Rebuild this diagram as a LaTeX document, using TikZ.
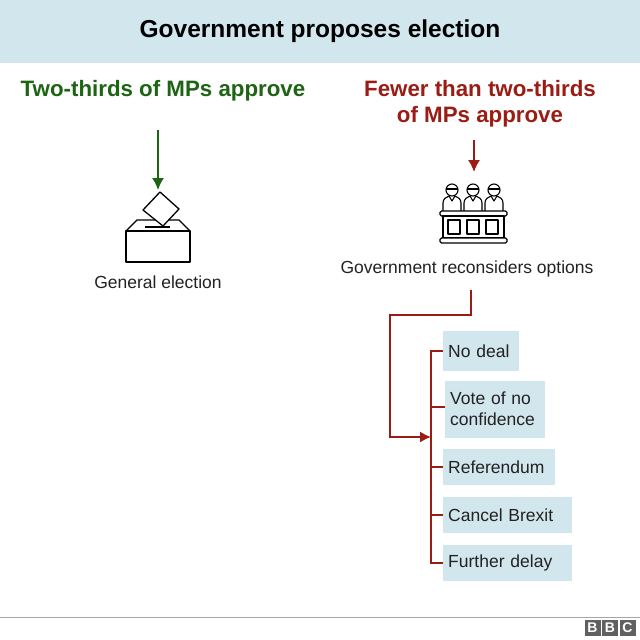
\documentclass[tikz,border=0pt]{standalone}
\usepackage{fontspec}
\usetikzlibrary{arrows.meta}
\setmainfont{Liberation Sans}
\definecolor{hdr}{HTML}{D2E6EE}
\definecolor{grn}{HTML}{1E6414}
\definecolor{rd}{HTML}{9B1C14}
\definecolor{txt}{HTML}{222222}
\begin{document}
\begin{tikzpicture}[x=1pt,y=-1pt,
 opt/.style={fill=hdr,anchor=west,align=left,inner sep=5pt,text=txt,font=\fontsize{17.5}{21}\selectfont},
 lbl/.style={text=txt,font=\fontsize{17.5}{21}\selectfont},
 head/.style={font=\bfseries\fontsize{22.3}{26}\selectfont,align=center},
 link/.style={rd,line width=1.6pt},
 icon/.style={black,line width=1.3pt,line join=round}]
\useasboundingbox (0,0) rectangle (640,640);
\fill[white] (0,0) rectangle (640,640);
\fill[hdr] (0,0) rectangle (640,63);
\node[head,text=black,font=\bfseries\fontsize{24.5}{28}\selectfont] (title) at (320,31) {Government proposes election};
\node[head,text=grn] (lh) at (163,91) {Two-thirds of MPs approve};
\node[head,text=rd] (rh) at (480,104) {Fewer than two-thirds\\of MPs approve};
% ballot box
\coordinate (bt) at (158,130);
\coordinate (bb) at (158,190);
\draw[grn,line width=1.5pt,-{Latex[length=12pt,width=12pt]}] (bt) -- (bb);
\draw[icon] (126,231) rectangle (190,262);
\draw[icon] (126,231) -- (137,220) -- (179,220) -- (190,231);
\draw[icon,fill=white] (160,192) -- (179,209) -- (163,226) -- (143,210) -- cycle;
\draw[icon,line width=1.8pt] (145,227) -- (170,227);
\node[lbl] (ge) at (158,282) {General election};
% jury
\coordinate (rt) at (474,140);
\coordinate (rb) at (474,172);
\draw[rd,line width=1.5pt,-{Latex[length=12pt,width=12pt]}] (rt) -- (rb);
\foreach \cx in {452,473,494}{
 \draw[icon,line width=1.1pt] (\cx-9,211) -- (\cx-9,203) .. controls (\cx-9,199) and (\cx-6,197) .. (\cx-3,196) -- (\cx,201) -- (\cx+3,196) .. controls (\cx+6,197) and (\cx+9,199) .. (\cx+9,203) -- (\cx+9,211);
 \draw[icon,line width=1.1pt,fill=white] (\cx,190) circle (6);
 \draw[icon,line width=1.1pt] (\cx-6,189) -- (\cx+6,189);
}
\draw[icon,fill=white,rounded corners=1.5pt] (440,211) rectangle (507,216);
\draw[icon] (443,216) rectangle (504,238);
\draw[icon] (448,220) rectangle (460,234);
\draw[icon] (467,220) rectangle (479,234);
\draw[icon] (486,220) rectangle (498,234);
\draw[icon,fill=white,rounded corners=1.5pt] (440,238) rectangle (507,243);
\node[lbl] (gr) at (467,269) {Government reconsiders options};
% options
\node[opt,minimum height=40pt,text width=66pt] (o1) at (443,351) {No deal};
\node[opt,minimum height=57pt,text width=90pt] (o2) at (445,409) {Vote of no\\confidence};
\node[opt,minimum height=36pt,text width=102pt] (o3) at (443,467) {Referendum};
\node[opt,minimum height=36pt,text width=119pt] (o4) at (443,515) {Cancel Brexit};
\node[opt,minimum height=36pt,text width=119pt] (o5) at (443,563) {Further delay};
\coordinate (s0) at (471,290);
\coordinate (s1) at (471,315);
\coordinate (s2) at (390,315);
\coordinate (s3) at (390,437);
\coordinate (s4) at (431,437);
\draw[link,-{Latex[length=11pt,width=11pt]}] (s0) -- (s1) -- (s2) -- (s3) -- (s4);
\draw[link] (o1.west) -- (431,351) -- (431,563) -- (o5.west);
\draw[link] (o2.west |- 0,407) -- (431,407);
\draw[link] (o3.west) -- (431,467);
\draw[link] (o4.west) -- (431,515);
% footer
\draw[gray!70,line width=1pt] (0,617) -- (640,617);
\foreach \l [count=\i] in {B,B,C}{
 \node[fill=gray!75!black,text=white,minimum size=16pt,inner sep=0pt,font=\bfseries\fontsize{14}{14}\selectfont] (bbc\i) at (575+17.5*\i,628) {\l};
}
\end{tikzpicture}
\end{document}
